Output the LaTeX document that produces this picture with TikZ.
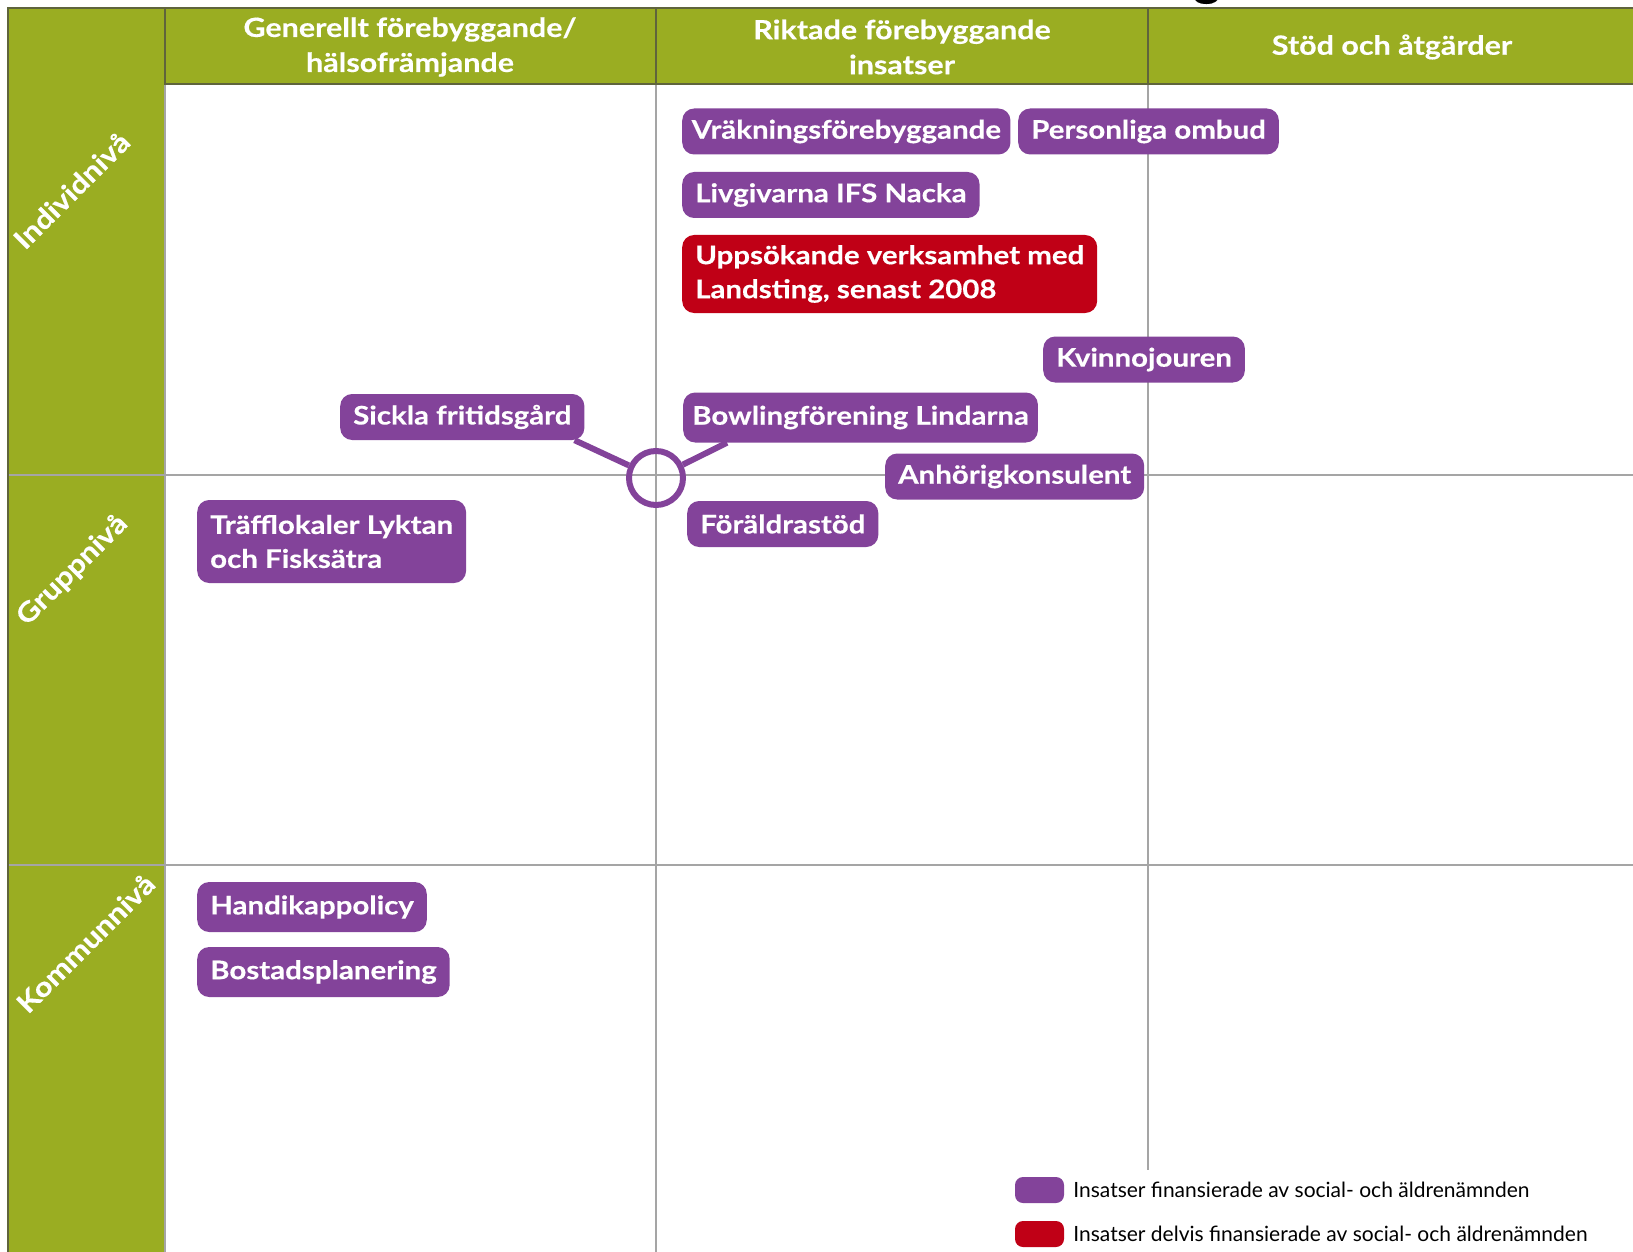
\documentclass[tikz,border=0pt]{standalone}
\usepackage{fontspec}
\setmainfont{Lato}[BoldFeatures={FakeStretch=1.15, FakeBold=0.4}]
\usetikzlibrary{positioning}
\definecolor{gron}{RGB}{154,173,34}
\definecolor{lila}{RGB}{131,67,154}
\definecolor{rod}{RGB}{192,0,22}
\definecolor{linje}{RGB}{165,165,165}
\definecolor{mork}{RGB}{95,100,60}
\tikzset{
  insats/.style={fill=lila, text=white, rounded corners=12pt, inner xsep=13pt,
    minimum height=46pt, anchor=west, align=left,
    font=\fontsize{25.6}{34}\selectfont\bfseries},
  delvis/.style={insats, fill=rod},
  rubrik/.style={text=white, align=center, font=\fontsize{26.5}{35}\selectfont\bfseries},
  niva/.style={text=white, rotate=45, anchor=base west, inner sep=0pt,
    font=\fontsize{27}{27}\selectfont\bfseries},
  knutpunkt/.style={circle, draw=lila, line width=6pt, minimum size=54pt, inner sep=0pt},
  kant/.style={draw=lila, line width=6pt},
  ruta/.style={fill=#1, rounded corners=8pt, minimum width=49pt, minimum height=26pt, inner sep=0pt},
  forklaring/.style={font=\fontsize{21}{21}\selectfont, inner sep=0pt, anchor=west}
}
\begin{document}
\begin{tikzpicture}[x=1pt, y=-1pt]
  \useasboundingbox (0,0) rectangle (1633,1252);
  % titel (avskuren)
  \node[font=\fontsize{44}{44}\selectfont\bfseries, anchor=base, inner sep=0pt] (titel) at (1207,-4) {g};
  % bakgrund
  \fill[gron] (8,8) rectangle (165,1252);
  \fill[gron] (165,8) rectangle (1633,84);
  % rutnat
  \foreach \y in {475, 865}
    \draw[linje, line width=1.2pt] (8,\y) -- (1633,\y);
  \draw[linje, line width=1.2pt] (656,84) -- (656,1252);
  \draw[linje, line width=1.2pt] (1148,84) -- (1148,1170);
  \draw[linje, line width=1.2pt] (165,84) -- (165,1252);
  \draw[mork, line width=1.2pt] (8,1252) -- (8,8) -- (1633,8);
  \draw[mork, line width=1.2pt] (165,8) -- (165,84) -- (1633,84);
  \foreach \x in {656, 1148}
    \draw[mork, line width=1.2pt] (\x,8) -- (\x,84);
  % rubriker
  \node[rubrik] (generellt) at (410,47) {Generellt förebyggande/\\hälsofrämjande};
  \node[rubrik] (riktade) at (902,47) {Riktade förebyggande\\insatser};
  \node[rubrik] (stod) at (1392,47) {Stöd och åtgärder};
  \node[niva] (individ) at (25,251) {Individnivå};
  \node[niva] (grupp) at (27,627) {Gruppnivå};
  \node[niva] (kommun) at (28,1015) {Kommunnivå};
  % insatser
  \node[insats, inner xsep=9.5pt] (vrak) at (682,131.5) {Vräkningsförebyggande};
  \node[insats] (ombud) at (1018,131.5) {Personliga ombud};
  \node[insats] (livg) at (682,195) {Livgivarna IFS Nacka};
  \node[delvis, minimum height=78pt] (uppsok) at (682,274) {Uppsökande verksamhet med\\Landsting, senast 2008};
  \node[insats] (kvinno) at (1043,359.5) {Kvinnojouren};
  \node[insats, inner xsep=9pt, minimum height=50pt] (bowling) at (683,417.5) {Bowlingförening Lindarna};
  \node[insats] (sickla) at (340,417) {Sickla fritidsgård};
  \node[insats] (anhorig) at (885,476.5) {Anhörigkonsulent};
  \node[insats] (foraldra) at (687,524) {Föräldrastöd};
  \node[insats, minimum height=83pt] (traff) at (197,541.5) {Träfflokaler Lyktan\\och Fisksätra};
  \node[insats, minimum height=50pt] (handikapp) at (197,907) {Handikappolicy};
  \node[insats, minimum height=50pt] (bostad) at (197,972) {Bostadsplanering};
  % gemensam knutpunkt
  \node[knutpunkt] (knut) at (656,478) {};
  \draw[kant] ([xshift=-10pt]sickla.south east) -- (knut);
  \draw[kant] ([xshift=44pt]bowling.south west) -- (knut);
  % forklaring
  \node[ruta=lila] (lilaruta) at (1039.5,1190) {};
  \node[ruta=rod] (rodruta) at (1039.5,1234) {};
  \node[forklaring, right=9pt of lilaruta] (lilatext) {Insatser finansierade av social- och äldrenämnden};
  \node[forklaring, right=9pt of rodruta] (rodtext) {Insatser delvis finansierade av social- och äldrenämnden};
\end{tikzpicture}
\end{document}
